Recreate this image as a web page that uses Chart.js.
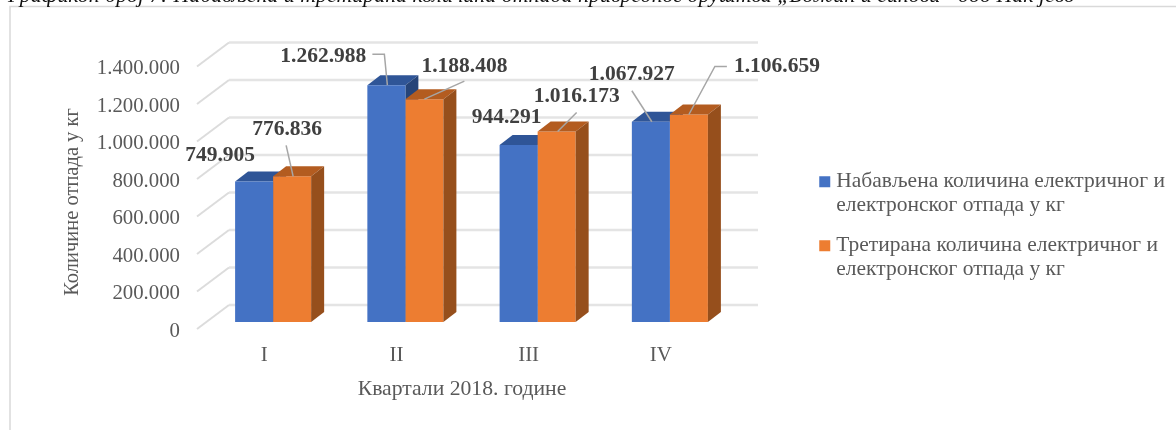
<!DOCTYPE html>
<html>
<head>
<meta charset="utf-8">
<style>
  html, body { margin: 0; padding: 0; background: #fff; overflow: hidden; }
  #wrap { position: relative; width: 1176px; height: 430px; overflow: hidden; filter: blur(0.45px); }
  #caption { position: absolute; left: 8px; top: -18px; font: italic 21.95px "Liberation Serif"; color: #111; white-space: nowrap; }
</style>
</head>
<body>
<div id="wrap">
  <div id="caption">Графикон број 7: Набављена и третирана количина отпада привредног друштва „Божић и синови“ доо Нак јево</div>
  <canvas id="chart" width="1176" height="430"></canvas>
</div>
<script src="https://cdn.jsdelivr.net/npm/chart.js@4"></script>
<script>
var quarters = ["I", "II", "III", "IV"];
var procured = [749905, 1262988, 944291, 1067927];
var treated = [776836, 1188408, 1016173, 1106659];
var procuredLabel = ["Набављена количина електричног и", "електронског отпада у кг"];
var treatedLabel = ["Третирана количина електричног и", "електронског отпада у кг"];
var xAxisTitle = "Квартали 2018. године";
var yAxisTitle = "Количине отпада у кг";

var SERIF = '"Liberation Serif"';
var TEXT = "#595959";

// fake 3d: bar depth, and how far the floor runs back from the front edge
var DEPTH_X = 13, DEPTH_Y = 10;
var faces = [
  { top: "#2f5597", side: "#264478" },
  { top: "#b35c20", side: "#964f1c" }
];

// where each value label sits, relative to top centre of its bar. line = leader, if it has one
var labelSpots = [
  [
    { dx: -34, dy: -26 },
    { dx: -63, dy: -29, line: [[-14, -31], [-2, -31], [1, 0]] },
    { dx: -12, dy: -27 },
    { dx: -19, dy: -47, line: [[-19, -31], [1, 0]] }
  ],
  [
    { dx: -5, dy: -47, line: [[-6, -31], [1, 0]] },
    { dx: 40, dy: -33, line: [[40, -18], [0, 0]] },
    { dx: 20, dy: -35, line: [[20, -19], [1, 0]] },
    { dx: 88, dy: -48, line: [[38, -48], [26, -48], [0, 0]] }
  ]
];

function dotted(n) {
  return String(n).replace(/\B(?=(\d{3})+$)/g, ".");
}

function drawDepth(chart, index) {
  var ctx = chart.ctx, f = faces[index];
  chart.getDatasetMeta(index).data.forEach(function (bar) {
    var l = bar.x - bar.width / 2, r = bar.x + bar.width / 2, t = bar.y, b = bar.base;
    ctx.fillStyle = f.top;
    ctx.beginPath();
    ctx.moveTo(l, t);
    ctx.lineTo(l + DEPTH_X, t - DEPTH_Y);
    ctx.lineTo(r + DEPTH_X, t - DEPTH_Y);
    ctx.lineTo(r, t);
    ctx.closePath();
    ctx.fill();
    ctx.fillStyle = f.side;
    ctx.beginPath();
    ctx.moveTo(r, t);
    ctx.lineTo(r + DEPTH_X, t - DEPTH_Y);
    ctx.lineTo(r + DEPTH_X, b - DEPTH_Y);
    ctx.lineTo(r, b);
    ctx.closePath();
    ctx.fill();
  });
}

var wallPlugin = {
  id: "wall",
  // back wall gridlines + slanted floor lines, then blue depth so the orange fronts cover it
  beforeDatasetsDraw: function (chart) {
    var ctx = chart.ctx, area = chart.chartArea, y = chart.scales.y;
    ctx.save();
    y.ticks.forEach(function (t) {
      var py = y.getPixelForValue(t.value);
      ctx.strokeStyle = "#e4e4e4";
      ctx.lineWidth = 2.5;
      ctx.beginPath();
      ctx.moveTo(area.left + 22, py - 17);
      ctx.lineTo(area.right + 22, py - 17);
      ctx.stroke();
      ctx.strokeStyle = "#dcdcdc";
      ctx.lineWidth = 2;
      ctx.beginPath();
      ctx.moveTo(area.left - 10, py + 7);
      ctx.lineTo(area.left + 22, py - 17);
      ctx.stroke();
    });
    drawDepth(chart, 0);
    ctx.restore();
  },
  afterDatasetsDraw: function (chart) {
    var ctx = chart.ctx;
    drawDepth(chart, 1);
    ctx.save();
    chart.data.datasets.forEach(function (ds, i) {
      chart.getDatasetMeta(i).data.forEach(function (bar, j) {
        var spot = labelSpots[i][j];
        if (spot.line) {
          ctx.strokeStyle = "#a6a6a6";
          ctx.lineWidth = 1.5;
          ctx.beginPath();
          spot.line.forEach(function (p, k) {
            if (k === 0) ctx.moveTo(bar.x + p[0], bar.y + p[1]);
            else ctx.lineTo(bar.x + p[0], bar.y + p[1]);
          });
          ctx.stroke();
        }
        ctx.font = "bold 21.5px " + SERIF;
        ctx.fillStyle = "#404040";
        ctx.textAlign = "center";
        ctx.textBaseline = "middle";
        ctx.fillText(dotted(ds.data[j]), bar.x + spot.dx, bar.y + spot.dy);
      });
    });
    // axis titles sit on the front plane, which is off centre from the plot area
    ctx.font = "21.7px " + SERIF;
    ctx.fillStyle = TEXT;
    ctx.textAlign = "center";
    ctx.fillText(xAxisTitle, 462, 389);
    ctx.translate(73, 202);
    ctx.rotate(-Math.PI / 2);
    ctx.font = "20.5px " + SERIF;
    ctx.fillText(yAxisTitle, 0, 0);
    ctx.restore();
  },
  // page frame of the chart object
  beforeDraw: function (chart) {
    var ctx = chart.ctx;
    ctx.save();
    ctx.strokeStyle = "#d9d9d9";
    ctx.lineWidth = 1.5;
    ctx.beginPath();
    ctx.moveTo(10, 430);
    ctx.lineTo(10, 6.5);
    ctx.lineTo(1176, 6.5);
    ctx.stroke();
    ctx.restore();
  },
  afterLayout: function (chart) {
    var lg = chart.legend;
    lg.left = 808;
    lg.right = lg.left + lg.width;
    lg.top = 155;
    lg.bottom = lg.top + lg.height;
  }
};

new Chart(document.getElementById("chart"), {
  type: "bar",
  data: {
    labels: quarters,
    datasets: [
      { label: procuredLabel, data: procured, backgroundColor: "#4472c4" },
      { label: treatedLabel, data: treated, backgroundColor: "#ed7d31" }
    ]
  },
  options: {
    responsive: false,
    animation: false,
    categoryPercentage: 0.575,
    barPercentage: 1,
    layout: { padding: { top: 59.5, right: 440 } },
    plugins: {
      tooltip: { enabled: false },
      title: { display: false },
      legend: {
        position: "chartArea",
        align: "start",
        labels: {
          usePointStyle: true,
          pointStyle: "rect",
          boxWidth: 1.5,
          boxHeight: 11,
          padding: 16,
          color: TEXT,
          font: { family: SERIF, size: 21.5, lineHeight: 1.116 }
        }
      }
    },
    scales: {
      x: {
        afterFit: function (s) { s.height = 108; },
        grid: { display: false },
        border: { display: false },
        ticks: { color: TEXT, font: { family: SERIF, size: 21 }, padding: 13, labelOffset: -9, maxRotation: 0 }
      },
      y: {
        min: 0,
        max: 1400000,
        afterFit: function (s) { s.width = 207; },
        grid: { display: false },
        border: { display: false },
        ticks: {
          stepSize: 200000,
          color: TEXT,
          font: { family: SERIF, size: 20.8 },
          padding: 19,
          labelOffset: 9.5,
          callback: function (v) { return dotted(v); }
        }
      }
    }
  },
  plugins: [wallPlugin]
});
</script>
</body>
</html>
